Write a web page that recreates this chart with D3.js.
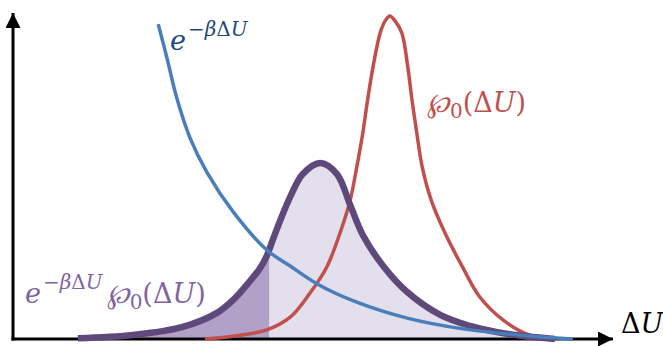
<!DOCTYPE html>
<html>
<head>
<meta charset="utf-8">
<script src="https://cdn.jsdelivr.net/npm/d3@7"></script>
<style>
  html, body { margin: 0; padding: 0; background: #fff; }
  svg { display: block; }
  .math { font-family: "DejaVu Serif", "Liberation Serif", serif; }
</style>
</head>
<body>
<div id="chart"></div>
<script>
// Curves (x = ΔU in arbitrary units, y = relative height)
const blueX = [2.42, 2.57, 2.73, 2.95, 3.23, 3.67, 4.23, 4.62, 5.07, 5.73, 6.57, 7.5, 8.62, 9.33];
const blueY = [0.966, 0.859, 0.739, 0.617, 0.512, 0.39, 0.273, 0.224, 0.169, 0.113, 0.064, 0.031, 0.009, 0];

const redX = [3.2, 3.7, 4.23, 4.62, 4.95, 5.23, 5.45, 5.62, 5.73, 5.83, 5.91, 6.0, 6.12, 6.2, 6.28,
              6.37, 6.48, 6.58, 6.65, 6.73, 6.82, 6.97, 7.2, 7.5, 7.78, 8.17, 8.57, 9.03];
const redY = [0, 0.009, 0.028, 0.067, 0.141, 0.221, 0.325, 0.426, 0.528, 0.632, 0.733, 0.834, 0.939, 0.975, 0.991,
              0.975, 0.939, 0.834, 0.733, 0.632, 0.528, 0.426, 0.325, 0.218, 0.129, 0.058, 0.015, 0];

const purpleX = [1.08, 2.0, 2.83, 3.4, 3.67, 3.95, 4.12, 4.23, 4.33, 4.45, 4.62, 4.83, 5.12,
                 5.4, 5.62, 5.83, 6.17, 6.57, 7.12, 7.62, 8.07, 8.5, 9.03];
const purpleY = [0.002, 0.012, 0.037, 0.08, 0.12, 0.178, 0.218, 0.255, 0.304, 0.362, 0.436, 0.506, 0.54,
                 0.506, 0.411, 0.319, 0.224, 0.144, 0.074, 0.04, 0.021, 0.009, 0];

// ΔU where the darker shading stops
const SPLIT = 4.27;

const width = 663;
const height = 346;

const svg = d3.select('#chart')
    .append('svg')
    .attr('width', width)
    .attr('height', height);

const xScale = d3.scaleLinear().domain([0, 10]).range([13, 613]);
const yScale = d3.scaleLinear().domain([0, 1]).range([339, 13]);

const zip = (xs, ys) => xs.map((x, i) => [x, ys[i]]);
const blue = zip(blueX, blueY);
const red = zip(redX, redY);
const purple = zip(purpleX, purpleY);

const curve = d3.curveCatmullRom.alpha(0.5);

const line = d3.line()
    .x(d => xScale(d[0]))
    .y(d => yScale(d[1]))
    .curve(curve);

const area = d3.area()
    .x(d => xScale(d[0]))
    .y0(yScale(0))
    .y1(d => yScale(d[1]))
    .curve(curve);

// clip paths for the two shaded parts
const defs = svg.append('defs');
defs.append('clipPath').attr('id', 'clipLeft')
    .append('rect')
    .attr('x', 0).attr('y', 0)
    .attr('width', xScale(SPLIT)).attr('height', height);
defs.append('clipPath').attr('id', 'clipRight')
    .append('rect')
    .attr('x', xScale(SPLIT)).attr('y', 0)
    .attr('width', width - xScale(SPLIT)).attr('height', height);

// arrow heads
defs.append('marker')
    .attr('id', 'arrow')
    .attr('viewBox', '0 0 10 10')
    .attr('refX', 10).attr('refY', 5)
    .attr('markerUnits', 'userSpaceOnUse')
    .attr('markerWidth', 16).attr('markerHeight', 15)
    .attr('orient', 'auto')
    .append('path')
    .attr('d', 'M0,0 L10,5 L0,10 Z')
    .attr('fill', '#000');

// shaded areas
svg.append('path')
    .datum(purple)
    .attr('clip-path', 'url(#clipRight)')
    .attr('fill', '#e4dfec')
    .attr('d', area);

svg.append('path')
    .datum(purple)
    .attr('clip-path', 'url(#clipLeft)')
    .attr('fill', '#b1a0c7')
    .attr('d', area);

// axes
const [x0, x1] = xScale.range();
const [y0, y1] = yScale.range();

svg.append('line')
    .attr('x1', x0).attr('y1', y0 + 1.5)
    .attr('x2', x0).attr('y2', y1)
    .attr('stroke', '#000')
    .attr('stroke-width', 3)
    .attr('marker-end', 'url(#arrow)');

svg.append('line')
    .attr('x1', x0 - 1.5).attr('y1', y0)
    .attr('x2', x1).attr('y2', y0)
    .attr('stroke', '#000')
    .attr('stroke-width', 3)
    .attr('marker-end', 'url(#arrow)');

// curves
svg.append('path')
    .datum(red)
    .attr('fill', 'none')
    .attr('stroke', '#c0504d')
    .attr('stroke-width', 3.5)
    .attr('d', line);

svg.append('path')
    .datum(purple)
    .attr('fill', 'none')
    .attr('stroke', '#5f497a')
    .attr('stroke-width', 6.5)
    .attr('d', line);

svg.append('path')
    .datum(blue)
    .attr('fill', 'none')
    .attr('stroke', '#4a7ebb')
    .attr('stroke-width', 3.5)
    .attr('d', line);

// labels
function addExp(text) {
    text.append('tspan').attr('font-style', 'italic').text('e');
    text.append('tspan').attr('dy', -14).attr('dx', 2).attr('font-size', 20).text('\u2212');
    text.append('tspan').attr('font-size', 20).attr('font-style', 'italic').text('\u03b2');
    text.append('tspan').attr('font-size', 20).text('\u0394');
    text.append('tspan').attr('font-size', 20).attr('font-style', 'italic').text('U');
}

function addP(text, dyBack, dxGap) {
    text.append('tspan').attr('dy', dyBack).attr('dx', dxGap).attr('font-style', 'italic').text('\u2118');
    text.append('tspan').attr('dy', 6).attr('font-size', 20).text('0');
    text.append('tspan').attr('dy', -6).text('(\u0394');
    text.append('tspan').attr('font-style', 'italic').text('U');
    text.append('tspan').text(')');
}

const blueLabel = svg.append('text')
    .attr('class', 'math')
    .attr('x', 170).attr('y', 50)
    .attr('font-size', 27)
    .attr('fill', '#1f497d');
addExp(blueLabel);

const redLabel = svg.append('text')
    .attr('class', 'math')
    .attr('x', 427).attr('y', 112)
    .attr('font-size', 27)
    .attr('fill', '#c0504d');
addP(redLabel, 0, 0);

const purpleLabel = svg.append('text')
    .attr('class', 'math')
    .attr('x', 25).attr('y', 303)
    .attr('font-size', 27)
    .attr('fill', '#8064a2');
addExp(purpleLabel);
addP(purpleLabel, 14, 4);

const axisLabel = svg.append('text')
    .attr('class', 'math')
    .attr('x', 621).attr('y', 333)
    .attr('font-size', 27)
    .attr('fill', '#000');
axisLabel.append('tspan').text('\u0394');
axisLabel.append('tspan').attr('font-style', 'italic').text('U');
</script>
</body>
</html>
